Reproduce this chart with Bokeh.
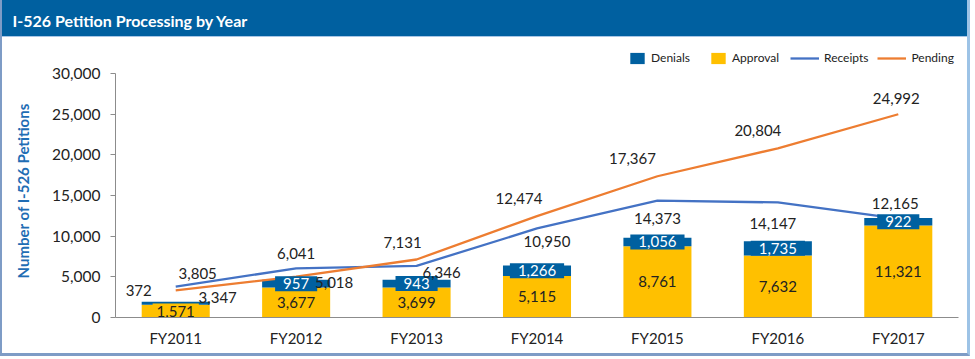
from bokeh.plotting import figure
from bokeh.models import (FactorRange, Range1d, ColumnDataSource, Legend, LegendItem,
                          FixedTicker, NumeralTickFormatter, Title)
from bokeh.core.properties import value
from bokeh.embed import file_html
from bokeh.resources import INLINE

# ---- data ----
years = ["FY2011", "FY2012", "FY2013", "FY2014", "FY2015", "FY2016", "FY2017"]
approvals = [1571, 3677, 3699, 5115, 8761, 7632, 11321]
denials = [372, 957, 943, 1266, 1056, 1735, 922]
receipts = [3805, 6041, 6346, 10950, 14373, 14147, 12165]
pending = [3347, 5018, 7131, 12474, 17367, 20804, 24992]
y_ticks = [0, 5000, 10000, 15000, 20000, 25000, 30000]
y_max = 30000
title_text = "I-526 Petition Processing by Year"
y_label = "Number of I-526 Petitions"

# ---- styles / layout ----
BLUE = "#0060A0"
YEL = "#FFC000"
RCP = "#4472C4"
PND = "#ED7D31"
FONT = value("Lato")
W, H = 970, 356
ML, MR, MB = 113, 14, 39
FT = 38                      # frame top (under the title band)
TOP_TICK = 73                # pixel row of the top tick
FH = H - MB - FT
y_end = y_max * FH / (H - MB - TOP_TICK)

src = ColumnDataSource(dict(
    years=years, approvals=approvals, denials=denials,
    receipts=receipts, pending=pending,
    app_mid=[a / 2 for a in approvals],
    den_mid=[a + d / 2 for a, d in zip(approvals, denials)],
    app_txt=[f"{v:,}" for v in approvals],
    den_txt=[f"{v:,}" for v in denials],
    rcp_txt=[f"{v:,}" for v in receipts],
    pnd_txt=[f"{v:,}" for v in pending],
    den_col=["#222222"] + ["white"] * 6,
    den_bga=[0] + [1] * 6,
    den_xo=[-37, 0, 0, 0, 0, 0, 0],
    den_yo=[-13, 0, 0, 0, 0, 0, 0],
    rcp_xo=[22, 0, 25, 10, 0, -5, -3],
    rcp_yo=[-13, -15, 7, 13, 18, 21, -15],
    pnd_xo=[42, 38, -14, -18, -25, -20, -2],
    pnd_yo=[7, 6, -17, -18, -18, -18, -16],
))

title = Title(text=title_text, align="left", offset=10 - ML, standoff=17,
              text_color="white", text_font="Lato", text_font_style="bold",
              text_font_size="16px")

band_css = (f"linear-gradient(to bottom, {BLUE} 0px, {BLUE} 36px, #A8C6E6 36px, "
            f"#A8C6E6 37px, #FFFFFF 37px, #FFFFFF 100%)")
p = figure(x_range=FactorRange(factors=years, range_padding=0), y_range=Range1d(0, y_end),
           width=W, height=H, toolbar_location=None, output_backend="svg", title=title,
           min_border_left=ML, min_border_right=MR, min_border_top=FT, min_border_bottom=MB,
           outline_line_color=None, background_fill_color="white", border_fill_alpha=0,
           styles={"background": band_css,
                   "border-left": "2px solid #7E9CC6", "border-right": "3px solid #9DC3E6",
                   "border-bottom": "3px solid #7E9CC6"})
p.grid.visible = False

bars = p.vbar_stack(["approvals", "denials"], x="years", width=0.565, color=[YEL, BLUE],
                    line_color=None, source=src)
rline = p.line("years", "receipts", source=src, line_color=RCP, line_width=2.3)
pline = p.line("years", "pending", source=src, line_color=PND, line_width=2.3)

common = dict(text_font=FONT, text_font_size=value("15px"), text_align="center",
              text_baseline="middle", source=src)
p.text(x="years", y="app_mid", text="app_txt", text_color="#222222",
       background_fill_color=YEL, padding=(4, 2), **common)
p.text(x="years", y="den_mid", text="den_txt", text_color="den_col",
       background_fill_color=BLUE, background_fill_alpha="den_bga", padding=(8, 2),
       x_offset="den_xo", y_offset="den_yo", **common)
p.text(x="years", y="receipts", text="rcp_txt", text_color="#222222",
       x_offset="rcp_xo", y_offset="rcp_yo", **common)
p.text(x="years", y="pending", text="pnd_txt", text_color="#222222",
       x_offset="pnd_xo", y_offset="pnd_yo", **common)

# axes
yax = p.yaxis[0]
yax.ticker = FixedTicker(ticks=y_ticks)
yax.bounds = (0, y_max)
yax.formatter = NumeralTickFormatter(format="0,0")
yax.minor_tick_line_color = None
yax.major_tick_out = 5
yax.major_tick_in = 0
yax.axis_line_color = "#8C8C8C"
yax.major_tick_line_color = "#8C8C8C"
yax.major_label_text_font = "Lato"
yax.major_label_text_font_size = "15.5px"
yax.major_label_text_color = "#222222"
yax.major_label_standoff = 10
yax.axis_label = y_label + "\u00a0" * 7
yax.axis_label_text_font = "Lato"
yax.axis_label_text_font_style = "bold"
yax.axis_label_text_font_size = "15px"
yax.axis_label_text_color = "#1F6DB4"
yax.axis_label_standoff = 17

xax = p.xaxis[0]
xax.major_tick_line_color = None
xax.axis_line_color = "#8C8C8C"
xax.major_label_text_font = "Lato"
xax.major_label_text_font_size = "15px"
xax.major_label_text_color = "#222222"
xax.major_label_standoff = 5

leg_common = dict(orientation="horizontal", border_line_color=None, background_fill_alpha=0,
                  label_text_font="Lato", label_text_font_size="12px",
                  label_text_color="#222222", glyph_height=14, label_height=14,
                  padding=0, margin=0, label_standoff=5)
leg_y = H - MB - 58 - 7
legend_a = Legend(items=[LegendItem(label="Denials", renderers=[bars[1]]),
                         LegendItem(label="Approval", renderers=[bars[0]])],
                  location=(626 - ML, leg_y), glyph_width=18, spacing=19, **leg_common)
legend_b = Legend(items=[LegendItem(label="Receipts", renderers=[rline]),
                         LegendItem(label="Pending", renderers=[pline])],
                  location=(788 - ML, leg_y), glyph_width=29, spacing=9, **leg_common)
p.add_layout(legend_a)
p.add_layout(legend_b)

open("out.html", "w").write(file_html(p, INLINE))
